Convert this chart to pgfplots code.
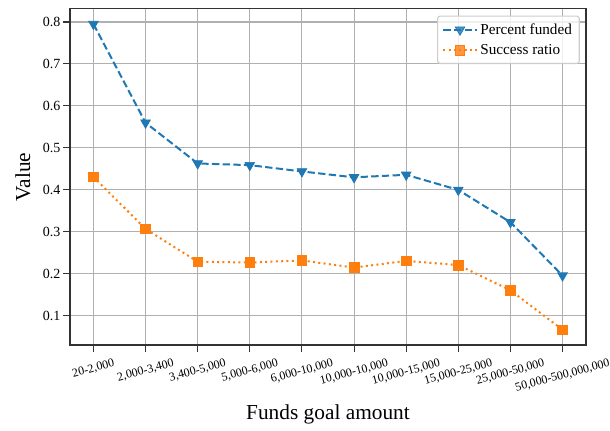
\documentclass[border=0pt]{standalone}
\usepackage{fontspec}
\setmainfont{Liberation Serif}
\usepackage{graphicx}
\usepackage{pgfplots}
\pgfplotsset{compat=1.18}
\definecolor{tabblue}{HTML}{1F77B4}
\definecolor{taborange}{HTML}{FF7F0E}
\definecolor{gridgray}{HTML}{B0B0B0}
\definecolor{legframe}{HTML}{CCCCCC}
\definecolor{framecol}{HTML}{333333}
\begin{document}
\begin{tikzpicture}
\useasboundingbox (-52.5pt,-63.75pt) rectangle (405pt,258.75pt);
\begin{axis}[
  at={(0,0)}, anchor=south west,
  scale only axis, width=387pt, height=252.15pt,
  xmin=-0.45, xmax=9.45, ymin=0.0306, ymax=0.8314,
  xtick={0,1,2,3,4,5,6,7,8,9},
  xticklabels={
    {\rotatebox{15}{20-2,000}},
    {\rotatebox{15}{2,000-3,400}},
    {\rotatebox{15}{3,400-5,000}},
    {\rotatebox{15}{5,000-6,000}},
    {\rotatebox{15}{6,000-10,000}},
    {\rotatebox{15}{10,000-10,000}},
    {\rotatebox{15}{10,000-15,000}},
    {\rotatebox{15}{15,000-25,000}},
    {\rotatebox{15}{25,000-50,000}},
    {\rotatebox{15}{50,000-500,000,000}}},
  ytick={0.1,0.2,0.3,0.4,0.5,0.6,0.7,0.8},
  yticklabels={0.1,0.2,0.3,0.4,0.5,0.6,0.7,0.8},
  xticklabel style={anchor=north, font=\fontsize{9}{10}\selectfont, inner sep=0pt, yshift=-5pt},
  yticklabel style={font=\fontsize{10.5}{12}\selectfont, inner sep=1pt, xshift=-1pt},
  /pgf/number format/assume math mode=true,
  grid=major, grid style={gridgray, line width=0.8pt},
  axis line style={framecol, line width=1pt},
  tick align=outside, xtick pos=left, ytick pos=left,
  major tick length=5pt, tick style={framecol, line width=0.8pt},
  xlabel={Funds goal amount}, ylabel={Value},
  label style={font=\fontsize{16}{18}\selectfont},
  xlabel style={at={(axis description cs:0.5,-0.205)}, anchor=center},
  ylabel style={at={(axis description cs:-0.0911,0.5)}, anchor=center},
  legend style={at={(axis description cs:0.988,0.98)}, anchor=north east,
    draw=legframe, rounded corners=2pt, fill=white, fill opacity=0.8,
    draw opacity=1, text opacity=1, line width=0.8pt,
    font=\fontsize{11.4}{13}\selectfont, row sep=2pt, inner sep=3.5pt},
  legend cell align=left,
  legend image code/.code={\draw[mark repeat=2,mark phase=2,#1] plot coordinates {(0pt,0pt)(12.5pt,0pt)(25pt,0pt)};},
]
\addplot[tabblue, line width=1.5pt, dash pattern=on 5.5pt off 2.5pt,
  mark=triangle*, mark size=4.2pt, mark options={solid, rotate=180, fill=tabblue, draw=tabblue, line width=0.5pt}]
  coordinates {(0,0.795) (1,0.560) (2,0.463) (3,0.459) (4,0.444) (5,0.430) (6,0.436) (7,0.400) (8,0.323) (9,0.196)};
\addlegendentry{Percent funded}
\addplot[taborange, line width=1.5pt, dash pattern=on 1.5pt off 2.5pt,
  mark=square*, mark size=3.6pt, mark options={solid, fill=taborange, draw=taborange, line width=0.5pt}]
  coordinates {(0,0.431) (1,0.307) (2,0.229) (3,0.227) (4,0.232) (5,0.215) (6,0.231) (7,0.221) (8,0.161) (9,0.067)};
\addlegendentry{Success ratio}
\end{axis}
\end{tikzpicture}
\end{document}
